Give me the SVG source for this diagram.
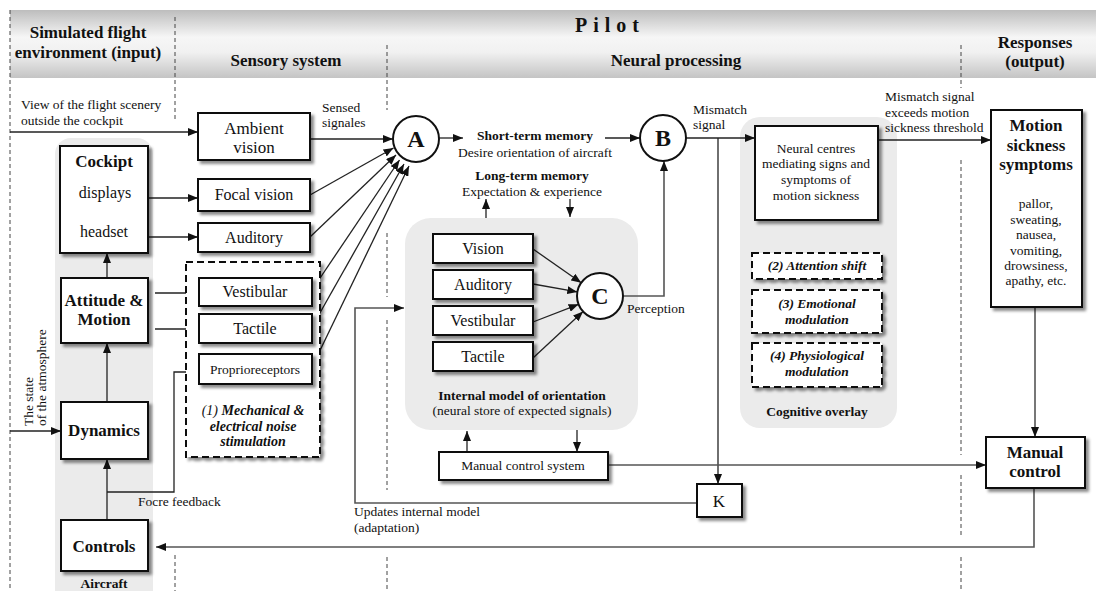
<svg xmlns="http://www.w3.org/2000/svg" width="1096" height="591" viewBox="0 0 1096 591" font-family="'Liberation Serif', 'Times New Roman', 'DejaVu Serif', serif">
<defs>
<linearGradient id="band" x1="0" y1="0" x2="0" y2="1">
<stop offset="0" stop-color="#bdbdbd"/>
<stop offset="0.4" stop-color="#f6f6f6"/>
<stop offset="0.62" stop-color="#f1f1f1"/>
<stop offset="1" stop-color="#c4c4c4"/>
</linearGradient>
<filter id="sh" x="-20%" y="-20%" width="150%" height="150%">
<feDropShadow dx="3" dy="3" stdDeviation="1.6" flood-color="#000" flood-opacity="0.45"/>
</filter>
<marker id="ah" viewBox="0 0 10 8" refX="10" refY="4" markerWidth="10" markerHeight="8" markerUnits="userSpaceOnUse" orient="auto"><path d="M0,0 L10,4 L0,8 Z" fill="#111"/></marker>
</defs>
<style>
svg text{font-family:'Liberation Serif','Times New Roman','DejaVu Serif',serif;fill:#111}
.hd{font-weight:bold;font-size:17px;text-anchor:middle}
.box{fill:#fff;stroke:#111;stroke-width:2;filter:url(#sh)}
.dbox{fill:#fff;stroke:#111;stroke-width:2;stroke-dasharray:7 4;filter:url(#sh)}
.sep{stroke:#444;stroke-width:1;stroke-dasharray:4 3;fill:none}
.ln{stroke:#222;stroke-width:1.3;fill:none;marker-end:url(#ah)}
.lga{stroke:#555;stroke-width:1.6;fill:none;marker-end:url(#ah)}
.s{font-size:13.5px}
.m{font-size:16px}
.l{font-size:17px}
.c{text-anchor:middle}
.b{font-weight:bold}
.bi{font-weight:bold;font-style:italic}
.gray{fill:#ebebeb}
.circ{fill:#fff;stroke:#111;stroke-width:2}
.big{font-size:24px;font-weight:bold;text-anchor:middle}
</style>

<g id="header">
<rect x="10" y="10" width="1086" height="68" fill="url(#band)"/>
<text class="hd" x="88" y="38">Simulated flight</text>
<text class="hd" x="88" y="58">environment (input)</text>
<text class="hd" x="286" y="66">Sensory system</text>
<text class="hd" x="610" y="32" style="font-size:20px;letter-spacing:6px">Pilot</text>
<text class="hd" x="676" y="66">Neural processing</text>
<text class="hd" x="1035" y="48">Responses</text>
<text class="hd" x="1035" y="67">(output)</text>
</g>

<g id="separators">
<path class="sep" d="M10,10 V591"/>
<path class="sep" d="M175,17 V122 M175,555 V591"/>
<path class="sep" d="M387,45 V110 M387,233 V297 M387,320 V490 M387,557 V591"/>
<path class="sep" d="M961,45 V88 M961,160 V455 M961,475 V535 M961,557 V591"/>
</g>

<g id="aircraft-group">
<rect x="55" y="138" width="98" height="470" rx="16" class="gray"/>
<text class="s b c" x="104" y="588">Aircraft</text>
</g>
<g id="internal-model-group">
<rect x="405" y="218" width="233" height="212" rx="26" class="gray"/>
<text class="s b c" x="522" y="400">Internal model of orientation</text>
<text class="s c" x="522" y="415">(neural store of expected signals)</text>
</g>
<g id="cognitive-overlay-group">
<rect x="740" y="117" width="157" height="311" rx="20" class="gray"/>
<text class="s b c" x="817" y="416">Cognitive overlay</text>
</g>

<g id="connectors">
<path class="ln" d="M10,132 H198"/>
<path class="ln" d="M140,198 H198"/>
<path class="ln" d="M140,237 H198"/>
<path class="ln" d="M155,293 H199"/>
<path class="ln" d="M155,329 H199"/>
<path class="ln" d="M107,278 V253"/>
<path class="ln" d="M107,402 V343"/>
<path class="ln" d="M107,520 V459"/>
<path class="ln" d="M10,431 H61"/>
<path class="ln" d="M107,492 H174 V372 H199"/>
<path class="ln" d="M310,139 H393"/>
<path class="ln" d="M310,195 L393.5,148"/>
<path class="ln" d="M310,237 L396,155"/>
<path class="ln" d="M312,290 L399.5,160"/>
<path class="ln" d="M312,327 L404,164"/>
<path class="ln" d="M312,367 L409,166"/>
<path class="ln" d="M439,138 H463"/>
<path class="ln" d="M605,138 H640"/>
<path class="ln" d="M686,138 H755"/>
<path class="ln" d="M718,138 V484"/>
<path class="ln" d="M878,140 H991"/>
<path class="lga" d="M623,296 H664 V161"/>
<path class="ln" d="M486,218 V199"/>
<path class="ln" d="M570,199 V217"/>
<path class="ln" d="M533,249 L581.2,282.8"/>
<path class="ln" d="M533,284 L577.3,291.9"/>
<path class="ln" d="M533,322 L578.6,304.3"/>
<path class="ln" d="M533,358 L583.1,311.6"/>
<path class="ln" d="M467,452 V431"/>
<path class="ln" d="M577,430 V452"/>
<path class="lga" d="M608,465 H986"/>
<path class="lga" d="M1035,307 V437"/>
<path class="lga" d="M1034,488 V547 H156"/>
<path class="lga" d="M697,503 H355 V308 H404"/>
</g>

<g id="cockpit"><rect class="box" x="60" y="146" width="88" height="107"/>
<text class="l b c" x="104" y="167">Cockipt</text>
<text class="m c" x="105" y="198">displays</text>
<text class="m c" x="104" y="237">headset</text></g>
<g id="attitude-motion"><rect class="box" x="61" y="278" width="87" height="65"/>
<text class="l b c" x="104" y="306">Attitude &amp;</text>
<text class="l b c" x="104" y="325">Motion</text></g>
<g id="dynamics"><rect class="box" x="61" y="402" width="87" height="57"/>
<text class="l b c" x="104" y="436">Dynamics</text></g>
<g id="controls"><rect class="box" x="61" y="520" width="87" height="51"/>
<text class="l b c" x="104" y="552">Controls</text></g>

<g id="labels-left">
<text class="s" x="21" y="109">View of the flight scenery</text>
<text class="s" x="21" y="125">outside the cockpit</text>
<text class="s" transform="translate(33,426) rotate(-90)">The state</text>
<text class="s" transform="translate(46,426) rotate(-90)">of the atmosphere</text>
<text class="s" x="138" y="506">Focre feedback</text>
<text class="s" x="322" y="112">Sensed</text>
<text class="s" x="322" y="127">signales</text>
</g>

<g id="ambient-vision"><rect class="box" x="198" y="113" width="112" height="47"/>
<text class="l c" x="254" y="134">Ambient</text>
<text class="l c" x="254" y="153">vision</text></g>
<g id="focal-vision"><rect class="box" x="198" y="179" width="112" height="32"/>
<text class="m c" x="254" y="200">Focal vision</text></g>
<g id="auditory"><rect class="box" x="198" y="223" width="112" height="29"/>
<text class="m c" x="254" y="243">Auditory</text></g>
<g id="mechanical-noise"><rect class="dbox" x="186" y="262" width="134" height="195"/>
<text class="bi c" style="font-size:14px" x="253" y="415"><tspan font-weight="normal">(1)</tspan> Mechanical &amp;</text>
<text class="bi c" style="font-size:14px" x="253" y="431">electrical noise</text>
<text class="bi c" style="font-size:14px" x="253" y="446">stimulation</text></g>
<g id="vestibular"><rect class="box" x="199" y="278" width="113" height="28"/>
<text class="m c" x="255" y="297">Vestibular</text></g>
<g id="tactile"><rect class="box" x="199" y="314" width="113" height="29"/>
<text class="m c" x="255" y="334">Tactile</text></g>
<g id="proprioreceptors"><rect class="box" x="199" y="354" width="113" height="30"/>
<text class="s c" x="255" y="374">Proprioreceptors</text></g>

<g id="node-a"><circle class="circ" cx="416" cy="139" r="23"/><text class="big" x="416" y="147">A</text></g>
<g id="short-term-memory">
<text class="s b c" x="535" y="140">Short-term memory</text>
<text class="s c" x="535" y="157">Desire orientation of aircraft</text></g>
<g id="node-b"><circle class="circ" cx="663" cy="138" r="23"/><text class="big" x="663" y="146">B</text></g>
<g id="mismatch-label"><text class="s" x="693" y="114">Mismatch</text><text class="s" x="693" y="129">signal</text></g>
<g id="long-term-memory">
<text class="s b c" x="532" y="180">Long-term memory</text>
<text class="s c" x="532" y="196">Expectation &amp; experience</text></g>

<g id="im-vision"><rect class="box" x="433" y="234" width="100" height="29"/><text class="m c" x="483" y="254">Vision</text></g>
<g id="im-auditory"><rect class="box" x="433" y="270" width="100" height="29"/><text class="m c" x="483" y="290">Auditory</text></g>
<g id="im-vestibular"><rect class="box" x="433" y="306" width="100" height="29"/><text class="m c" x="483" y="326">Vestibular</text></g>
<g id="im-tactile"><rect class="box" x="433" y="342" width="100" height="29"/><text class="m c" x="483" y="362">Tactile</text></g>
<g id="node-c"><circle class="circ" cx="600" cy="296" r="23"/><text class="big" x="600" y="304">C</text>
<text class="s" x="627" y="313">Perception</text></g>

<g id="manual-control-system"><rect class="box" x="439" y="452" width="169" height="28"/>
<text class="s c" x="523" y="470">Manual control system</text></g>
<g id="node-k"><rect class="box" x="697" y="484" width="45" height="33"/>
<text class="l c" x="719" y="507">K</text></g>
<g id="updates-label">
<text class="s" x="354" y="516">Updates internal model</text>
<text class="s" x="354" y="532">(adaptation)</text></g>

<g id="neural-centres"><rect class="box" x="755" y="126" width="123" height="94"/>
<text class="s c" x="816" y="153">Neural centres</text>
<text class="s c" x="816" y="168">mediating signs and</text>
<text class="s c" x="816" y="184">symptoms of</text>
<text class="s c" x="816" y="200">motion sickness</text></g>
<g id="attention-shift"><rect class="dbox" x="752" y="253" width="130" height="26"/>
<text class="s bi c" x="817" y="270">(2) Attention shift</text></g>
<g id="emotional-modulation"><rect class="dbox" x="752" y="290" width="130" height="43"/>
<text class="s bi c" x="817" y="308">(3) Emotional</text>
<text class="s bi c" x="817" y="324">modulation</text></g>
<g id="physiological-modulation"><rect class="dbox" x="752" y="343" width="130" height="44"/>
<text class="s bi c" x="817" y="360">(4) Physiological</text>
<text class="s bi c" x="817" y="376">modulation</text></g>

<g id="threshold-label">
<text class="s" x="885" y="101">Mismatch signal</text>
<text class="s" x="885" y="117">exceeds motion</text>
<text class="s" x="885" y="132">sickness threshold</text></g>

<g id="motion-sickness-symptoms"><rect class="box" x="991" y="110" width="91" height="197"/>
<text class="l b c" x="1036" y="131">Motion</text>
<text class="l b c" x="1036" y="151">sickness</text>
<text class="l b c" x="1036" y="170">symptoms</text>
<text class="s c" x="1036" y="208">pallor,</text>
<text class="s c" x="1036" y="224">sweating,</text>
<text class="s c" x="1036" y="239">nausea,</text>
<text class="s c" x="1036" y="255">vomiting,</text>
<text class="s c" x="1036" y="270">drowsiness,</text>
<text class="s c" x="1036" y="285">apathy, etc.</text></g>
<g id="manual-control"><rect class="box" x="986" y="437" width="99" height="51"/>
<text class="l b c" x="1035" y="458">Manual</text>
<text class="l b c" x="1035" y="477">control</text></g>
</svg>
